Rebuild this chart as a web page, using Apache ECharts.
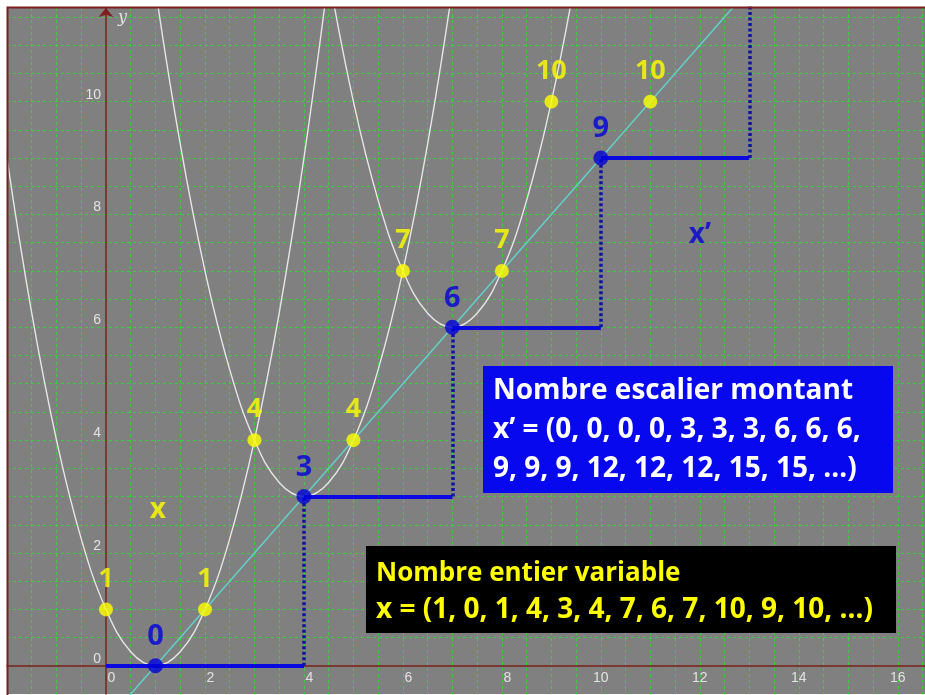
<!DOCTYPE html>
<html>
<head>
<meta charset="utf-8">
<title>Nombre escalier montant</title>
<script src="https://cdn.jsdelivr.net/npm/echarts@6/dist/echarts.min.js"></script>
<style>
  html, body { margin: 0; padding: 0; background: #fff; }
  #chart { width: 925px; height: 695px; }
</style>
</head>
<body>
<div id="chart"></div>
<script>
// graduations affichées
const xTicks = [0, 2, 4, 6, 8, 10, 12, 14, 16]
const yTicks = [0, 2, 4, 6, 8, 10]

// les trois paraboles
const parabola1 = [[-2.5, 12.25], [-2, 9], [-1.5, 6.25], [-1, 4], [-0.5, 2.25], [0, 1], [0.5, 0.25], [1, 0],
  [1.5, 0.25], [2, 1], [2.5, 2.25], [3, 4], [3.5, 6.25], [4, 9], [4.5, 12.25], [5, 16]]
const parabola2 = [[0.5, 15.25], [1, 12], [1.5, 9.25], [2, 7], [2.5, 5.25], [3, 4], [3.5, 3.25], [4, 3],
  [4.5, 3.25], [5, 4], [5.5, 5.25], [6, 7], [6.5, 9.25], [7, 12], [7.5, 15.25]]
const parabola3 = [[4, 15], [4.5, 12.25], [5, 10], [5.5, 8.25], [6, 7], [6.5, 6.25], [7, 6],
  [7.5, 6.25], [8, 7], [8.5, 8.25], [9, 10], [9.5, 12.25], [10, 15]]

// droite y = x - 1
const diagonal = [[0, -1], [14, 13]]

// escalier : marches (traits pleins) et contremarches (pointillés)
const treads = [[[0, 0], [4, 0]], [[4, 3], [7, 3]], [[7, 6], [10, 6]], [[10, 9], [13, 9]]]
const risers = [[[4, 0], [4, 3]], [[7, 3], [7, 6]], [[10, 6], [10, 9]], [[13, 9], [13, 12]]]

// points jaunes (x) et points bleus (x')
const yellowPoints = [[0, 1], [2, 1], [3, 4], [5, 4], [6, 7], [8, 7], [9, 10], [11, 10]]
const bluePoints = [[1, 0], [4, 3], [7, 6], [10, 9]]

// suites affichées dans les cadres
const xSeq = [1, 0, 1, 4, 3, 4, 7, 6, 7, 10, 9, 10]
const xPrimeSeq = [0, 0, 0, 0, 3, 3, 3, 6, 6, 6, 9, 9, 9, 12, 12, 12, 15, 15]

const gray = '#808080'
const axisRed = '#7d1d1d'
const gridGreen = '#3ccf3c'
const yellow = '#ffff00'
const blue = '#0000d8'
const boldFont = 'Open Sans'
const labelColor = '#e2e2e2'

// position du repère : x de -2 à 16.55, y de -0.5 à 11.66
const gridLeft = 7
const gridTop = 8
const gridBottom = 1
const xMin = -2, xMax = 16.55
const yMin = -0.5, yMax = 11.66

const chart = echarts.init(document.getElementById('chart'))

// décalage des axes pour qu'ils passent par l'origine
const plotW = 925 - gridLeft
const plotH = 695 - gridTop - gridBottom
const yAxisOffset = -(0 - xMin) / (xMax - xMin) * plotW
const xAxisOffset = -(0 - yMin) / (yMax - yMin) * plotH

const blueText = [
  '{a|Nombre escalier montant}',
  '{a|x\u2019 = (' + xPrimeSeq.slice(0, 10).join(', ') + ',}',
  '{a|' + xPrimeSeq.slice(10).join(', ') + ', \u2026)}'
].join('\n')
const blackText = [
  '{a|Nombre entier variable}',
  '{b|x = (' + xSeq.join(', ') + ', \u2026)}'
].join('\n')

const splitLine = {
  show: true,
  showMinLine: false,
  showMaxLine: false,
  lineStyle: { color: gridGreen, type: [3, 3], width: 1 }
}

chart.setOption({
  animation: false,
  backgroundColor: '#fff',
  grid: {
    left: gridLeft,
    right: 0,
    top: gridTop,
    bottom: gridBottom,
    outerBoundsMode: 'none',
    containLabel: false,
    show: true,
    borderWidth: 0,
    backgroundColor: gray
  },
  xAxis: {
    type: 'value',
    min: xMin,
    max: xMax,
    interval: 0.5,
    offset: xAxisOffset,
    axisLine: { onZero: false, lineStyle: { color: axisRed, width: 1.5 } },
    axisTick: { show: false },
    axisLabel: {
      margin: 5,
      showMinLabel: false,
      showMaxLabel: false,
      formatter: v => {
        if (xTicks.indexOf(v) < 0) return ''
        return v < 10 ? '{s|' + v + '}' : '{d|' + v + '}'
      },
      rich: {
        s: { padding: [0, 0, 0, 11], color: labelColor, fontSize: 14, fontFamily: 'Liberation Sans' },
        d: { color: labelColor, fontSize: 14, fontFamily: 'Liberation Sans' }
      }
    },
    splitLine: splitLine
  },
  yAxis: {
    type: 'value',
    min: yMin,
    max: yMax,
    interval: 0.5,
    offset: yAxisOffset,
    name: 'y',
    nameLocation: 'end',
    nameGap: -18,
    nameTextStyle: {
      color: labelColor, fontStyle: 'italic', fontFamily: 'DejaVu Serif', fontSize: 16,
      align: 'left', padding: [0, 0, 0, 12]
    },
    axisLine: {
      onZero: false,
      symbol: ['none', 'arrow'],
      symbolSize: [11, 9],
      lineStyle: { color: axisRed, width: 1.5 }
    },
    axisTick: { show: false },
    axisLabel: {
      margin: 5,
      showMinLabel: false,
      showMaxLabel: false,
      color: labelColor,
      fontSize: 14,
      fontFamily: 'Liberation Sans',
      verticalAlign: 'bottom',
      lineHeight: 14,
      formatter: v => (yTicks.indexOf(v) < 0 ? '' : String(v))
    },
    splitLine: splitLine
  },
  series: [
    // paraboles
    ...[parabola1, parabola2, parabola3].map(d => ({
      type: 'line',
      data: d,
      smooth: 0.4,
      symbol: 'none',
      clip: true,
      lineStyle: { color: '#e6e6e6', width: 1.4 },
      z: 2
    })),
    {
      type: 'line',
      data: diagonal,
      symbol: 'none',
      clip: true,
      lineStyle: { color: '#5ed6cc', width: 1.4 },
      z: 3
    },
    {
      type: 'lines',
      coordinateSystem: 'cartesian2d',
      data: treads.map(c => ({ coords: c })),
      clip: true,
      lineStyle: { color: '#0a0ae0', width: 4, opacity: 1 },
      z: 4
    },
    {
      type: 'lines',
      coordinateSystem: 'cartesian2d',
      data: risers.map(c => ({ coords: c })),
      clip: true,
      lineStyle: { color: '#12129e', width: 3.5, type: [3, 2.5], opacity: 1 },
      z: 4
    },
    {
      type: 'scatter',
      data: yellowPoints,
      symbolSize: 14,
      itemStyle: { color: yellow },
      label: {
        show: true,
        position: 'top',
        distance: 10,
        formatter: p => p.value[1],
        color: yellow,
        fontFamily: boldFont,
        fontWeight: 'bold',
        fontSize: 27
      },
      z: 5
    },
    {
      type: 'scatter',
      data: bluePoints,
      symbolSize: 15,
      itemStyle: { color: blue },
      label: {
        show: true,
        position: 'top',
        distance: 7,
        formatter: p => p.value[1],
        color: blue,
        fontFamily: boldFont,
        fontWeight: 'bold',
        fontSize: 29
      },
      z: 5
    },
    // étiquettes « x » et « x’ »
    {
      type: 'scatter',
      symbolSize: 0,
      data: [
        { value: [1.05, 2.76], label: { formatter: 'x', color: yellow } },
        { value: [12, 7.64], label: { formatter: 'x\u2019', color: blue } }
      ],
      label: { show: true, position: 'inside', fontFamily: boldFont, fontWeight: 'bold', fontSize: 28 },
      z: 5
    }
  ],
  graphic: [
    // cadre rouge foncé (gauche et haut)
    {
      type: 'polyline',
      shape: { points: [[7.5, 695], [7.5, 7.5], [925, 7.5]] },
      style: { stroke: axisRed, lineWidth: 2, fill: null },
      z: 100
    },
    {
      type: 'rect',
      shape: { x: 483, y: 366, width: 410, height: 127 },
      style: { fill: '#0808ee' },
      z: 100
    },
    {
      type: 'text',
      x: 493,
      y: 372,
      style: {
        text: blueText,
        rich: { a: { fill: '#ffffff', font: 'bold 28px "Open Sans"', lineHeight: 39 } }
      },
      z: 101
    },
    {
      type: 'rect',
      shape: { x: 366, y: 546, width: 530, height: 87 },
      style: { fill: '#000000' },
      z: 100
    },
    {
      type: 'text',
      x: 376,
      y: 555,
      style: {
        text: blackText,
        rich: {
          a: { fill: yellow, font: 'bold 26px "Open Sans"', lineHeight: 37 },
          b: { fill: yellow, font: 'bold 28px "Open Sans"', lineHeight: 37 }
        }
      },
      z: 101
    }
  ]
})
</script>
</body>
</html>
